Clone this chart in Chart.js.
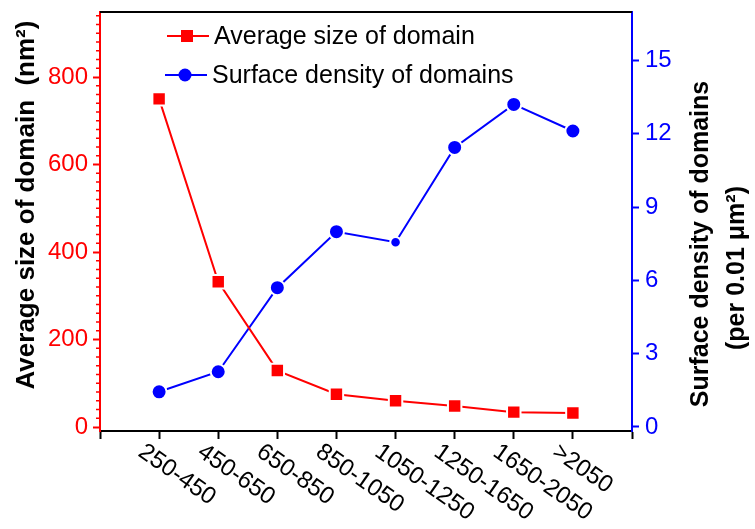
<!DOCTYPE html>
<html>
<head>
<meta charset="utf-8">
<script src="https://cdn.jsdelivr.net/npm/chart.js@4.4.0/dist/chart.umd.min.js"></script>
<style>
  html, body { margin: 0; padding: 0; background: #fff; }
</style>
</head>
<body>
<canvas id="chart" width="755" height="529"></canvas>
<script>
// data
const categories = ['250-450', '450-650', '650-850', '850-1050', '1050-1250', '1250-1650', '1650-2050', '>2050'];
const avgSize = [750, 332, 129, 75, 60, 48, 34, 32];
const density = [1.44, 2.26, 5.70, 7.99, 7.56, 11.44, 13.2, 12.11];
const densityRadius = [7.5, 7.5, 7.5, 7.5, 5.3, 7.5, 7.5, 7.5];

const FONT = '"Liberation Sans", Arial, sans-serif';
const RED = '#ff0000';
const BLUE = '#0000ff';

// extra drawing: frame top, minor ticks, slanted labels, titles, legend
const decorations = {
  id: 'decorations',
  afterDraw(chart) {
    const ctx = chart.ctx;
    const a = chart.chartArea;
    const x = chart.scales.x;
    const y = chart.scales.y;
    ctx.save();

    // top frame line
    ctx.strokeStyle = '#000';
    ctx.lineWidth = 2;
    ctx.beginPath();
    ctx.moveTo(a.left, a.top);
    ctx.lineTo(a.right, a.top);
    ctx.stroke();

    // minor ticks on the left axis
    ctx.strokeStyle = RED;
    ctx.lineWidth = 1.5;
    ctx.beginPath();
    for (let v = 20; v < y.max; v += 20) {
      if (v % 200 === 0) continue;
      const py = y.getPixelForValue(v);
      ctx.moveTo(a.left - 4, py);
      ctx.lineTo(a.left, py);
    }
    ctx.stroke();

    // x labels, slanting down to the right
    ctx.fillStyle = '#000';
    ctx.font = '24px ' + FONT;
    ctx.textAlign = 'left';
    ctx.textBaseline = 'alphabetic';
    categories.forEach((c, i) => {
      const px = x.getPixelForValue(i + 1);
      ctx.save();
      ctx.translate(px - 22, a.bottom + 24);
      ctx.rotate(35 * Math.PI / 180);
      ctx.fillText(c, 0, 0);
      ctx.restore();
    });

    // axis titles
    ctx.font = 'bold 26px ' + FONT;
    ctx.textAlign = 'center';
    ctx.textBaseline = 'middle';
    ctx.save();
    ctx.translate(27, 205);
    ctx.rotate(-Math.PI / 2);
    ctx.fillText('Average size of domain  (nm²)', 0, 0);
    ctx.restore();

    ctx.font = 'bold 25px ' + FONT;
    ctx.save();
    ctx.translate(701, 244);
    ctx.rotate(-Math.PI / 2);
    ctx.fillText('Surface density of domains', 0, 0);
    ctx.restore();

    ctx.save();
    ctx.translate(737, 268);
    ctx.rotate(-Math.PI / 2);
    ctx.fillText('(per 0.01 μm²)', 0, 0);
    ctx.restore();

    // legend
    ctx.font = '25px ' + FONT;
    ctx.textAlign = 'left';
    ctx.lineWidth = 2;

    ctx.strokeStyle = RED;
    ctx.beginPath();
    ctx.moveTo(a.left + 67, 36);
    ctx.lineTo(a.left + 109, 36);
    ctx.stroke();
    ctx.fillStyle = RED;
    ctx.fillRect(a.left + 81, 30, 12, 12);
    ctx.fillStyle = '#000';
    ctx.fillText('Average size of domain', a.left + 114, 37);

    ctx.strokeStyle = BLUE;
    ctx.beginPath();
    ctx.moveTo(a.left + 65, 75);
    ctx.lineTo(a.left + 107, 75);
    ctx.stroke();
    ctx.fillStyle = BLUE;
    ctx.beginPath();
    ctx.arc(a.left + 85, 75, 6.5, 0, Math.PI * 2);
    ctx.fill();
    ctx.fillStyle = '#000';
    ctx.fillText('Surface density of domains', a.left + 112, 76);

    ctx.restore();
  }
};

new Chart(document.getElementById('chart'), {
  type: 'line',
  data: {
    datasets: [{
      label: 'Average size of domain',
      data: avgSize.map((v, i) => ({ x: i + 1, y: v })),
      yAxisID: 'y',
      borderColor: RED,
      borderWidth: 2,
      pointStyle: 'rect',
      pointRadius: 9.5,
      pointBackgroundColor: RED,
      pointBorderColor: '#fff',
      pointBorderWidth: 2,
      tension: 0
    }, {
      label: 'Surface density of domains',
      data: density.map((v, i) => ({ x: i + 1, y: v })),
      yAxisID: 'y1',
      borderColor: BLUE,
      borderWidth: 2,
      pointStyle: 'circle',
      pointRadius: densityRadius,
      pointBackgroundColor: BLUE,
      pointBorderColor: '#fff',
      pointBorderWidth: 2,
      tension: 0
    }]
  },
  options: {
    responsive: false,
    devicePixelRatio: 1,
    animation: false,
    layout: { padding: { top: 12 } },
    plugins: {
      legend: { display: false },
      tooltip: { enabled: false }
    },
    scales: {
      x: {
        type: 'linear',
        position: 'bottom',
        min: 0,
        max: 9,
        ticks: { stepSize: 1, display: false },
        grid: { drawOnChartArea: false, drawTicks: true, tickLength: 8, tickColor: '#000', tickWidth: 2 },
        border: { color: '#000', width: 2 },
        afterFit(s) { s.height = 98; }
      },
      y: {
        position: 'left',
        min: -9.14,
        max: 948.6,
        ticks: { stepSize: 200, includeBounds: false, color: RED, padding: 5, font: { family: FONT, size: 24 } },
        grid: { drawOnChartArea: false, tickLength: 7, tickColor: RED, tickWidth: 2 },
        border: { color: RED, width: 2 },
        afterFit(s) { s.width = 100; s.paddingTop = 0; s.paddingBottom = 0; }
      },
      y1: {
        position: 'right',
        min: -0.164,
        max: 16.98,
        ticks: { stepSize: 3, includeBounds: false, color: BLUE, padding: 6, font: { family: FONT, size: 24 } },
        grid: { drawOnChartArea: false, tickLength: 7, tickColor: BLUE, tickWidth: 2 },
        border: { color: BLUE, width: 2 },
        afterFit(s) { s.width = 123; s.paddingTop = 0; s.paddingBottom = 0; }
      }
    }
  },
  plugins: [decorations]
});
</script>
</body>
</html>
